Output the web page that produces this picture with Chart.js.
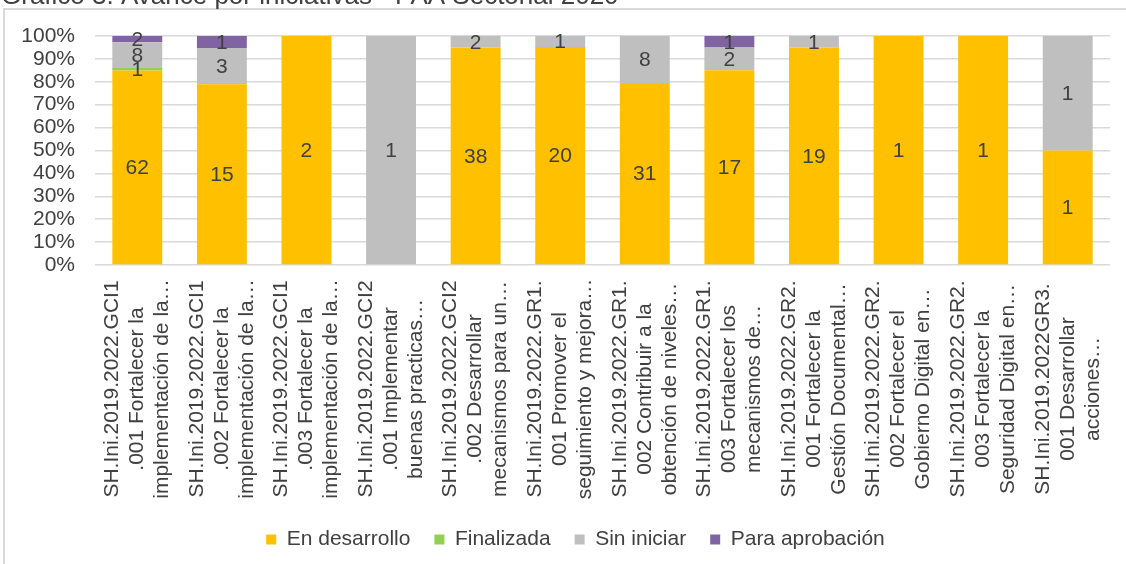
<!DOCTYPE html>
<html>
<head>
<meta charset="utf-8">
<script src="https://cdn.jsdelivr.net/npm/chart.js@4.4.1/dist/chart.umd.min.js"></script>
<style>
  html, body { margin: 0; padding: 0; background: #fff; }
  #wrap { position: relative; width: 1126px; height: 564px; overflow: hidden; background: #fff; }
  #frame { position: absolute; left: 3px; top: 8px; width: 1300px; height: 700px; border: 2px solid #d9d9d9; box-sizing: border-box; }
  #chart { position: absolute; left: 0; top: 0; }
</style>
</head>
<body>
<div id="wrap">
  <div id="frame"></div>
  <canvas id="chart" width="1126" height="564"></canvas>
</div>
<script>
// Gráfico 3 — avance por iniciativas (100% apilado, etiquetas con conteos)
const titleText = 'Gráfico 3. Avance por iniciativas - PAA Sectorial 2020';

const categories = [
  ['SH.Ini.2019.2022.GCI1', '.001 Fortalecer la', 'implementación de la…'],
  ['SH.Ini.2019.2022.GCI1', '.002 Fortalecer la', 'implementación de la…'],
  ['SH.Ini.2019.2022.GCI1', '.003 Fortalecer la', 'implementación de la…'],
  ['SH.Ini.2019.2022.GCI2', '.001 Implementar', 'buenas practicas…'],
  ['SH.Ini.2019.2022.GCI2', '.002 Desarrollar', 'mecanismos para un…'],
  ['SH.Ini.2019.2022.GR1.', '001 Promover el', 'seguimiento y mejora…'],
  ['SH.Ini.2019.2022.GR1.', '002 Contribuir a la', 'obtención de niveles…'],
  ['SH.Ini.2019.2022.GR1.', '003 Fortalecer los', 'mecanismos de…'],
  ['SH.Ini.2019.2022.GR2.', '001 Fortalecer la', 'Gestión Documental…'],
  ['SH.Ini.2019.2022.GR2.', '002 Fortalecer el', 'Gobierno Digital en…'],
  ['SH.Ini.2019.2022.GR2.', '003 Fortalecer la', 'Seguridad Digital en…'],
  ['SH.Ini.2019.2022GR3.', '001 Desarrollar', 'acciones…'],
];

const enDesarrollo   = [62, 15, 2, 0, 38, 20, 31, 17, 19, 1, 1, 1];
const finalizada     = [1, 0, 0, 0, 0, 0, 0, 0, 0, 0, 0, 0];
const sinIniciar     = [8, 3, 0, 1, 2, 1, 8, 2, 1, 0, 0, 1];
const paraAprobacion = [2, 1, 0, 0, 0, 0, 0, 1, 0, 0, 0, 0];

const seriesNames = ['En desarrollo', 'Finalizada', 'Sin iniciar', 'Para aprobación'];
const seriesColors = ['#ffc000', '#92d050', '#bfbfbf', '#8064a2'];

const FONT = '"Liberation Sans", Arial, sans-serif';
const TEXT = '#404040';

const allSeries = [enDesarrollo, finalizada, sinIniciar, paraAprobacion];
const totals = categories.map((_, i) => allSeries.reduce((s, arr) => s + arr[i], 0));

const datasets = allSeries.map((counts, k) => ({
  label: seriesNames[k],
  data: counts.map((c, i) => totals[i] ? (c / totals[i]) * 100 : 0),
  counts,
  backgroundColor: seriesColors[k],
  borderWidth: 0,
  barPercentage: 0.59,
  categoryPercentage: 1,
}));

// counts written in the middle of each segment
const segmentLabels = {
  id: 'segmentLabels',
  afterDatasetsDraw(chart) {
    const ctx = chart.ctx;
    ctx.save();
    ctx.font = '21px ' + FONT;
    ctx.fillStyle = TEXT;
    ctx.textAlign = 'center';
    ctx.textBaseline = 'middle';
    chart.data.datasets.forEach((ds, k) => {
      const meta = chart.getDatasetMeta(k);
      meta.data.forEach((bar, i) => {
        const c = ds.counts[i];
        if (!c) return;
        ctx.fillText(String(c), bar.x, (bar.y + bar.base) / 2 + 1);
      });
    });
    ctx.restore();
  },
};

// rotated category labels, lines centred on each other
const categoryLabels = {
  id: 'categoryLabels',
  afterDraw(chart) {
    const ctx = chart.ctx;
    const x = chart.scales.x;
    const centerY = x.top + 124;
    ctx.save();
    ctx.font = '21px ' + FONT;
    ctx.fillStyle = TEXT;
    ctx.textAlign = 'center';
    ctx.textBaseline = 'middle';
    categories.forEach((lines, i) => {
      const px = x.getPixelForValue(i);
      lines.forEach((line, j) => {
        ctx.save();
        ctx.translate(px + (j - 1) * 25, centerY);
        ctx.rotate(-Math.PI / 2);
        ctx.fillText(line, 0, 0);
        ctx.restore();
      });
    });
    ctx.restore();
  },
};

// title sits mostly above the visible area
const clippedTitle = {
  id: 'clippedTitle',
  afterDraw(chart) {
    const ctx = chart.ctx;
    ctx.save();
    ctx.font = '26px ' + FONT;
    ctx.fillStyle = TEXT;
    ctx.textAlign = 'left';
    ctx.textBaseline = 'alphabetic';
    ctx.fillText(titleText, 1, 3.5);
    ctx.restore();
  },
};

// legend in the original is centred a bit right of the canvas middle
const legendShift = {
  id: 'legendShift',
  afterLayout(chart) {
    const lg = chart.legend;
    if (!lg) return;
    lg.left = 41;
    lg.width = lg.right - lg.left;
  },
};

new Chart(document.getElementById('chart'), {
  type: 'bar',
  data: { labels: categories.map(l => l.join(' ')), datasets },
  options: {
    responsive: false,
    animation: false,
    layout: { padding: { top: 36, right: 16, bottom: 4, left: 0 } },
    plugins: {
      tooltip: { enabled: false },
      legend: {
        position: 'bottom',
        labels: {
          color: TEXT,
          font: { family: FONT, size: 21 },
          boxWidth: 10,
          boxHeight: 10,
          padding: 24,
        },
      },
    },
    scales: {
      x: {
        stacked: true,
        grid: { display: false },
        border: { display: false },
        ticks: { display: false },
        afterFit: s => { s.height = 240; },
      },
      y: {
        stacked: true,
        min: 0,
        max: 100,
        ticks: {
          stepSize: 10,
          autoSkip: false,
          padding: 20,
          color: TEXT,
          font: { family: FONT, size: 21 },
          callback: v => v + '%',
        },
        grid: { color: '#d9d9d9', lineWidth: 1.5, drawTicks: false },
        border: { display: false },
        afterFit: s => { s.width = 95; },
      },
    },
  },
  plugins: [segmentLabels, categoryLabels, clippedTitle, legendShift],
});
</script>
</body>
</html>
